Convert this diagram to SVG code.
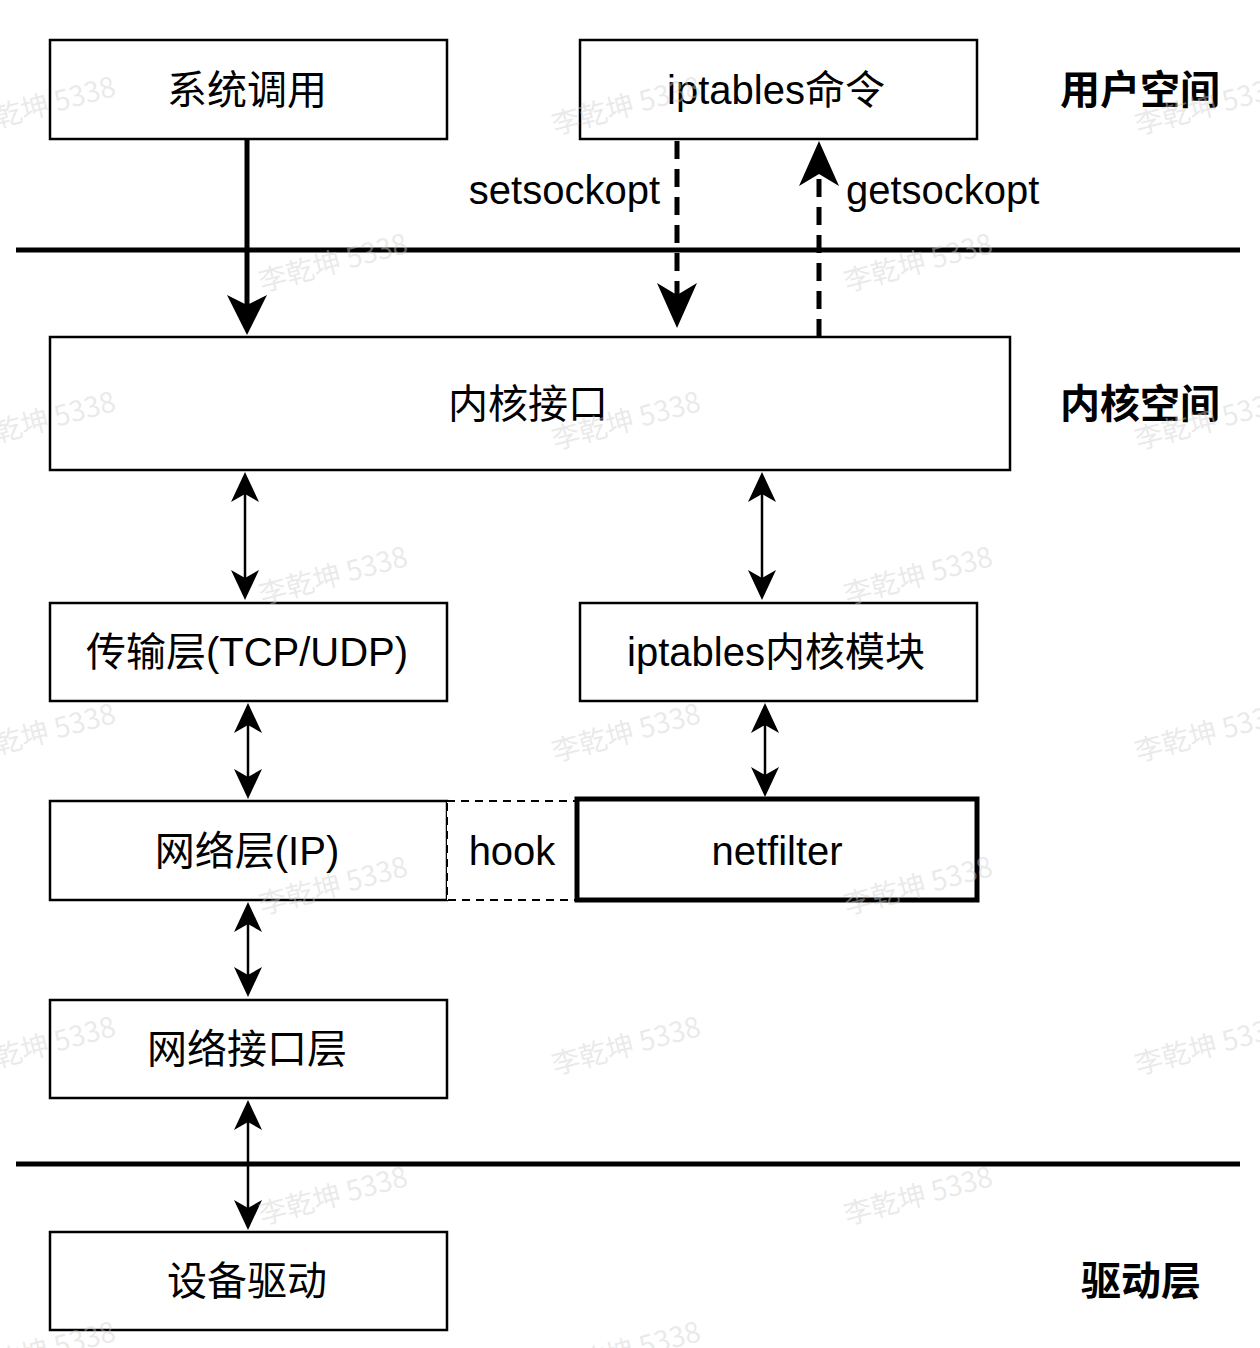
<svg xmlns="http://www.w3.org/2000/svg" width="1260" height="1348" viewBox="0 0 1260 1348">
<style>
.box{fill:#fff;stroke:#000;stroke-width:2.5}
.t{font-family:"Liberation Sans","Noto Sans CJK SC",sans-serif;font-size:40px;fill:#000;text-anchor:middle;dominant-baseline:central}
.b{font-weight:bold}
.wm{font-family:"Noto Sans CJK SC","Liberation Sans",sans-serif;font-size:28px;fill:#d0d0d0;fill-opacity:0.45}
.thin{stroke:#000;stroke-width:2.5;fill:none}
</style>
<defs>
<marker id="big" viewBox="0 0 40 40" markerUnits="userSpaceOnUse" markerWidth="40" markerHeight="40" refX="10" refY="20" orient="auto"><path d="M0,0 L40,20 L0,40 L10,20 z" fill="#000"/></marker>
<marker id="dash" viewBox="0 0 45 40" markerUnits="userSpaceOnUse" markerWidth="45" markerHeight="40" refX="12" refY="20" orient="auto"><path d="M0,0 L45,20 L0,40 L12,20 z" fill="#000"/></marker>
<marker id="sm" viewBox="0 0 30 28" markerUnits="userSpaceOnUse" markerWidth="30" markerHeight="28" refX="8" refY="14" orient="auto-start-reverse"><path d="M0,0 L30,14 L0,28 L8,14 z" fill="#000"/></marker>
</defs>
<rect width="1260" height="1348" fill="#fff"/>
<g id="separators">
<line x1="16" y1="250" x2="1240" y2="250" stroke="#000" stroke-width="5"/>
<line x1="16" y1="1164" x2="1240" y2="1164" stroke="#000" stroke-width="5"/>
</g>
<g id="syscall"><rect class="box" x="50" y="40" width="397" height="99"/><text class="t" x="247" y="90">系统调用</text></g>
<g id="iptables-cmd"><rect class="box" x="580" y="40" width="397" height="99"/><text class="t" x="776" y="90">iptables命令</text></g>
<g id="kernel-if"><rect class="box" x="50" y="337" width="960" height="133"/><text class="t" x="528" y="404">内核接口</text></g>
<g id="transport"><rect class="box" x="50" y="603" width="397" height="98"/><text class="t" x="247" y="652">传输层(TCP/UDP)</text></g>
<g id="iptables-mod"><rect class="box" x="580" y="603" width="397" height="98"/><text class="t" x="776" y="652">iptables内核模块</text></g>
<g id="network"><rect class="box" x="50" y="801" width="397" height="99"/><text class="t" x="247" y="851">网络层(IP)</text></g>
<g id="hook"><rect x="447" y="801" width="130" height="99" fill="#fff" stroke="#000" stroke-width="2" stroke-dasharray="8,6"/><text class="t" x="512" y="851">hook</text></g>
<g id="netfilter"><rect x="577" y="799" width="400" height="101" fill="#fff" stroke="#000" stroke-width="5"/><text class="t" x="777" y="851">netfilter</text></g>
<g id="netif"><rect class="box" x="50" y="1000" width="397" height="98"/><text class="t" x="247" y="1049">网络接口层</text></g>
<g id="driver"><rect class="box" x="50" y="1232" width="397" height="98"/><text class="t" x="247" y="1281">设备驱动</text></g>
<g id="layer-labels">
<text class="t b" x="1140" y="90">用户空间</text>
<text class="t b" x="1140" y="404">内核空间</text>
<text class="t b" x="1141" y="1281">驱动层</text>
</g>
<g id="connectors">
<line x1="247" y1="139" x2="247" y2="305" stroke="#000" stroke-width="5" marker-end="url(#big)"/>
<line x1="677" y1="141" x2="677" y2="295" stroke="#000" stroke-width="5" stroke-dasharray="18,10" marker-end="url(#dash)"/>
<line x1="819" y1="337" x2="819" y2="174" stroke="#000" stroke-width="5" stroke-dasharray="18,10" marker-end="url(#dash)"/>
<text class="t" x="660" y="190" style="text-anchor:end">setsockopt</text>
<text class="t" x="846" y="190" style="text-anchor:start">getsockopt</text>
<line class="thin" x1="245" y1="494" x2="245" y2="578" marker-start="url(#sm)" marker-end="url(#sm)"/>
<line class="thin" x1="762" y1="494" x2="762" y2="578" marker-start="url(#sm)" marker-end="url(#sm)"/>
<line class="thin" x1="248" y1="725" x2="248" y2="777" marker-start="url(#sm)" marker-end="url(#sm)"/>
<line class="thin" x1="765" y1="725" x2="765" y2="775" marker-start="url(#sm)" marker-end="url(#sm)"/>
<line class="thin" x1="248" y1="924" x2="248" y2="975" marker-start="url(#sm)" marker-end="url(#sm)"/>
<line class="thin" x1="248" y1="1122" x2="248" y2="1208" marker-start="url(#sm)" marker-end="url(#sm)"/>
</g>
<g id="watermarks">
<text class="wm" transform="translate(-30,135) rotate(-15)">李乾坤 5338</text>
<text class="wm" transform="translate(-30,450) rotate(-15)">李乾坤 5338</text>
<text class="wm" transform="translate(-30,762) rotate(-15)">李乾坤 5338</text>
<text class="wm" transform="translate(-30,1075) rotate(-15)">李乾坤 5338</text>
<text class="wm" transform="translate(-30,1380) rotate(-15)">李乾坤 5338</text>
<text class="wm" transform="translate(262,292) rotate(-15)">李乾坤 5338</text>
<text class="wm" transform="translate(262,605) rotate(-15)">李乾坤 5338</text>
<text class="wm" transform="translate(262,915) rotate(-15)">李乾坤 5338</text>
<text class="wm" transform="translate(262,1225) rotate(-15)">李乾坤 5338</text>
<text class="wm" transform="translate(555,135) rotate(-15)">李乾坤 5338</text>
<text class="wm" transform="translate(555,450) rotate(-15)">李乾坤 5338</text>
<text class="wm" transform="translate(555,762) rotate(-15)">李乾坤 5338</text>
<text class="wm" transform="translate(555,1075) rotate(-15)">李乾坤 5338</text>
<text class="wm" transform="translate(555,1380) rotate(-15)">李乾坤 5338</text>
<text class="wm" transform="translate(847,292) rotate(-15)">李乾坤 5338</text>
<text class="wm" transform="translate(847,605) rotate(-15)">李乾坤 5338</text>
<text class="wm" transform="translate(847,915) rotate(-15)">李乾坤 5338</text>
<text class="wm" transform="translate(847,1225) rotate(-15)">李乾坤 5338</text>
<text class="wm" transform="translate(1138,135) rotate(-15)">李乾坤 5338</text>
<text class="wm" transform="translate(1138,450) rotate(-15)">李乾坤 5338</text>
<text class="wm" transform="translate(1138,762) rotate(-15)">李乾坤 5338</text>
<text class="wm" transform="translate(1138,1075) rotate(-15)">李乾坤 5338</text>
</g>
</svg>
